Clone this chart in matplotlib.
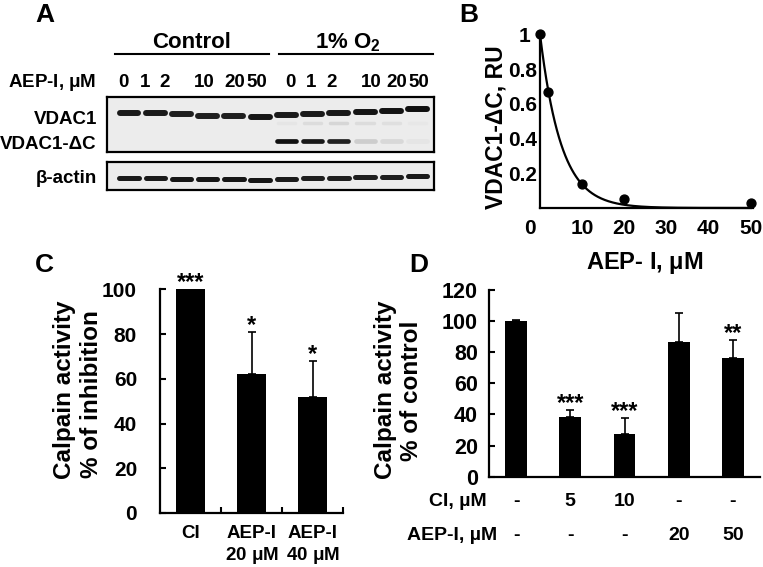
import numpy as np
import matplotlib
matplotlib.use('Agg')
import matplotlib.pyplot as plt
from matplotlib.transforms import ScaledTranslation, blended_transform_factory

plt.rcParams['font.family'] = ['Liberation Sans', 'DejaVu Sans']
plt.rcParams['font.weight'] = 'bold'
plt.rcParams['mathtext.fontset'] = 'custom'
plt.rcParams['mathtext.rm'] = 'Liberation Sans'
plt.rcParams['mathtext.bf'] = 'Liberation Sans:bold'
plt.rcParams['mathtext.it'] = 'Liberation Sans:italic'
MU = r'$\mathrm{\mu}$'

# ---------------- data ----------------
# A: western blot (12 lanes: control 0..50, 1% O2 0..50)
lane_doses = ['0', '1', '2', '10', '20', '50'] * 2
group_names = ['Control', r'1% O$_\mathbf{2}$']
vdac1_int = [0.95, 0.95, 0.93, 0.93, 0.93, 0.97, 0.95, 0.95, 0.96, 0.98, 0.99, 1.0]
vdac1_mob = [0.705, 0.717, 0.693, 0.656, 0.656, 0.644, 0.675, 0.687, 0.711, 0.730, 0.754, 0.779]
faint_int = [0, 0, 0, 0, 0, 0, 0.03, 0.07, 0.10, 0.07, 0.06, 0.02]
dc_int = [0, 0, 0, 0, 0, 0, 1.0, 0.96, 0.92, 0.14, 0.09, 0.03]
actin_int = [0.95, 0.95, 0.97, 0.97, 0.97, 0.97, 0.95, 0.93, 0.93, 0.93, 0.93, 0.95]
actin_mob = [0.44, 0.43, 0.40, 0.38, 0.38, 0.37, 0.40, 0.42, 0.43, 0.45, 0.47, 0.49]

# B: VDAC1-dC vs AEP-I
b_dose = [0, 2, 10, 20, 50]
b_rel = [1.0, 0.67, 0.136, 0.052, 0.027]
fit_a, fit_k = 1.0, 0.2

# C: calpain activity, % of inhibition
c_labels = ['CI', 'AEP-I\n20 ' + MU + 'M', 'AEP-I\n40 ' + MU + 'M']
c_vals = [100, 62, 52]
c_err = [0.3, 19, 16]
c_stars = ['***', '*', '*']

# D: calpain activity, % of control
d_vals = [100, 38.5, 27.2, 86.6, 76.5]
d_err = [1.0, 4.6, 10.5, 18.3, 11.3]
d_stars = ['', '***', '***', '', '**']
d_ci = ['-', '5', '10', '-', '-']
d_aep = ['-', '-', '-', '20', '50']

# ---------------- figure ----------------
W, H = 763, 567
fig = plt.figure(figsize=(W / 100, H / 100), dpi=100)


def px_axes(x0, y0, x1, y1):
    return fig.add_axes([x0 / W, 1 - y1 / H, (x1 - x0) / W, (y1 - y0) / H])


ov = fig.add_axes([0, 0, 1, 1])
ov.set_xlim(0, W)
ov.set_ylim(H, 0)
ov.axis('off')
ov.set_zorder(10)

# panel letters
for letter, (x, y) in zip('ABCD', [(45, 13), (469, 12), (44, 262), (419, 262)]):
    ov.text(x, y, letter, fontsize=19, ha='center', va='center_baseline')

# ---- A ----
bg = 0.925


def band_color(v):
    g = bg - v * (bg - 0.06)
    return (g, g, g)


blot1 = px_axes(107, 97.3, 434.3, 151.7)
blot2 = px_axes(107, 161.7, 434.3, 190)
for ax in (blot1, blot2):
    ax.set_xlim(-0.84, 11.64)
    ax.set_ylim(0, 1)
    ax.set_facecolor((bg, bg, bg))
    ax.set_xticks([])
    ax.set_yticks([])
    for s in ax.spines.values():
        s.set_linewidth(1.6)

lanes = np.arange(12)
for i in lanes:
    if vdac1_int[i] > 0:
        blot1.plot([i - 0.36, i + 0.36], [vdac1_mob[i]] * 2, lw=4.3,
                   color=band_color(vdac1_int[i]), solid_capstyle='round')
    if faint_int[i] > 0:
        blot1.plot([i - 0.33, i + 0.33], [0.52] * 2, lw=2.5,
                   color=band_color(faint_int[i]), solid_capstyle='round')
    if dc_int[i] > 0:
        blot1.plot([i - 0.36, i + 0.36], [0.203] * 2, lw=3.4,
                   color=band_color(dc_int[i]), solid_capstyle='round')
    blot2.plot([i - 0.37, i + 0.37], [actin_mob[i]] * 2, lw=3.6,
               color=band_color(actin_int[i]), solid_capstyle='round')

ov.text(192, 48.5, group_names[0], fontsize=16, ha='center', va='baseline')
ov.text(348, 48.5, group_names[1], fontsize=16, ha='center', va='baseline')
ov.plot([115, 269], [54, 54], color='black', lw=1.5)
ov.plot([279, 433], [54, 54], color='black', lw=1.5)

lane_label_x = [123, 145, 165, 204, 235, 257, 290, 311, 332, 371, 397, 419]
for x, d in zip(lane_label_x, lane_doses):
    ov.text(x, 87.3, d, fontsize=13.5, ha='center', va='baseline')
ov.text(96, 87.3, 'AEP-I, ' + MU + 'M', fontsize=13.5, ha='right', va='baseline')
ov.text(97, 124, 'VDAC1', fontsize=13.5, ha='right', va='baseline')
ov.text(97, 149, 'VDAC1-ΔC', fontsize=13.5, ha='right', va='baseline')
ov.text(97, 183, 'β-actin', fontsize=13.5, ha='right', va='baseline')

# ---- B ----
axB = px_axes(540, 34.3, 753, 208)
axB.set_facecolor('none')
xf = np.linspace(0, 50, 300)
axB.plot(xf, fit_a * np.exp(-fit_k * xf), color='black', lw=1.6, clip_on=False)
axB.plot(b_dose, b_rel, 'o', color='black', ms=6.4, clip_on=False, zorder=5)
axB.set_xlim(0, 50.5)
axB.set_ylim(0, 1)
for s in ['top', 'right']:
    axB.spines[s].set_visible(False)
for s in ['left', 'bottom']:
    axB.spines[s].set_linewidth(1.6)
axB.set_xticks([0, 10, 20, 30, 40, 50])
axB.set_yticks([0.2, 0.4, 0.6, 0.8, 1.0], ['0.2', '0.4', '0.6', '0.8', '1'])
axB.tick_params(axis='both', length=0, labelsize=15)
axB.tick_params(axis='x', pad=8)
axB.tick_params(axis='y', pad=2)
t0 = axB.xaxis.get_major_ticks()[0]
t0.label1.set_transform(t0.label1.get_transform() +
                        ScaledTranslation(-10 / 100, 0, fig.dpi_scale_trans))
t1 = axB.yaxis.get_major_ticks()[-1]
t1.label1.set_transform(t1.label1.get_transform() +
                        ScaledTranslation(-7 / 100, 0, fig.dpi_scale_trans))
ov.text(493, 127, 'VDAC1-ΔC, RU', fontsize=16.5, rotation=90, rotation_mode='anchor',
        ha='center', va='center_baseline')
ov.text(645, 260, 'AEP- I, ' + MU + 'M', fontsize=17, ha='center', va='center_baseline')

# ---- C ----
axC = px_axes(160, 289.3, 343, 513)
axC.set_facecolor('none')
xc = np.arange(len(c_vals)) + 0.5
axC.bar(xc, c_vals, width=0.47, color='black')
axC.errorbar(xc, c_vals, yerr=[np.zeros(len(c_err)), c_err], fmt='none',
             ecolor='black', elinewidth=1.2, capsize=3, capthick=1.2)
for x, v, e, s in zip(xc, c_vals, c_err, c_stars):
    axC.text(x, v + e, s, fontsize=17, ha='center', va='baseline')
axC.set_xlim(0, 3)
axC.set_ylim(0, 100)
for s in ['top', 'right']:
    axC.spines[s].set_visible(False)
for s in ['left', 'bottom']:
    axC.spines[s].set_linewidth(1.6)
axC.spines['left'].set_bounds(0, 100)
axC.set_yticks([0, 20, 40, 60, 80, 100])
axC.tick_params(axis='y', direction='in', length=4, width=1.5, labelsize=15, pad=16.5)
axC.set_xticks(xc, c_labels)
axC.set_xticks([1, 2, 3], minor=True)
axC.tick_params(axis='x', which='major', length=0, labelsize=13.5, pad=9)
axC.tick_params(axis='x', which='minor', direction='in', length=4, width=1.5)
for lab in axC.get_xticklabels():
    lab.set_linespacing(1.15)
ov.text(62, 390, 'Calpain activity', fontsize=17.5, rotation=90, rotation_mode='anchor',
        ha='center', va='center_baseline')
ov.text(89, 394, '% of inhibition', fontsize=17.5, rotation=90, rotation_mode='anchor',
        ha='center', va='center_baseline')

# ---- D ----
axD = px_axes(489, 290, 760, 476.7)
axD.set_facecolor('none')
xd = np.arange(len(d_vals)) + 0.5
axD.bar(xd, d_vals, width=0.40, color='black')
axD.errorbar(xd, d_vals, yerr=[np.zeros(len(d_err)), d_err], fmt='none',
             ecolor='black', elinewidth=1.2, capsize=3, capthick=1.2)
for x, v, e, s in zip(xd, d_vals, d_err, d_stars):
    if s:
        axD.text(x, v + e, s, fontsize=17, ha='center', va='baseline')
axD.set_xlim(0, 5)
axD.set_ylim(0, 120)
for s in ['top', 'right']:
    axD.spines[s].set_visible(False)
for s in ['left', 'bottom']:
    axD.spines[s].set_linewidth(1.6)
axD.set_yticks([0, 20, 40, 60, 80, 100, 120])
axD.set_xticks([])
axD.tick_params(axis='y', direction='in', length=4, width=1.5, labelsize=15.5, pad=8)

rows = blended_transform_factory(axD.transData, axD.transAxes)
y_ci = (476.7 - 499) / (476.7 - 290)
y_aep = (476.7 - 533) / (476.7 - 290)
for x, a, b in zip(xd, d_ci, d_aep):
    axD.text(x, y_ci, a, transform=rows, fontsize=14, ha='center',
             va='center_baseline', clip_on=False)
    axD.text(x, y_aep, b, transform=rows, fontsize=14, ha='center',
             va='center_baseline', clip_on=False)
ov.text(487, 499, 'CI, µM', fontsize=14, ha='right', va='center_baseline')
ov.text(497, 533, 'AEP-I, µM', fontsize=14, ha='right', va='center_baseline')
ov.text(383, 390, 'Calpain activity', fontsize=17.5, rotation=90, rotation_mode='anchor',
        ha='center', va='center_baseline')
ov.text(409, 391, '% of control', fontsize=17.5, rotation=90, rotation_mode='anchor',
        ha='center', va='center_baseline')

fig.savefig('out.png', dpi=100)
plt.close(fig)
